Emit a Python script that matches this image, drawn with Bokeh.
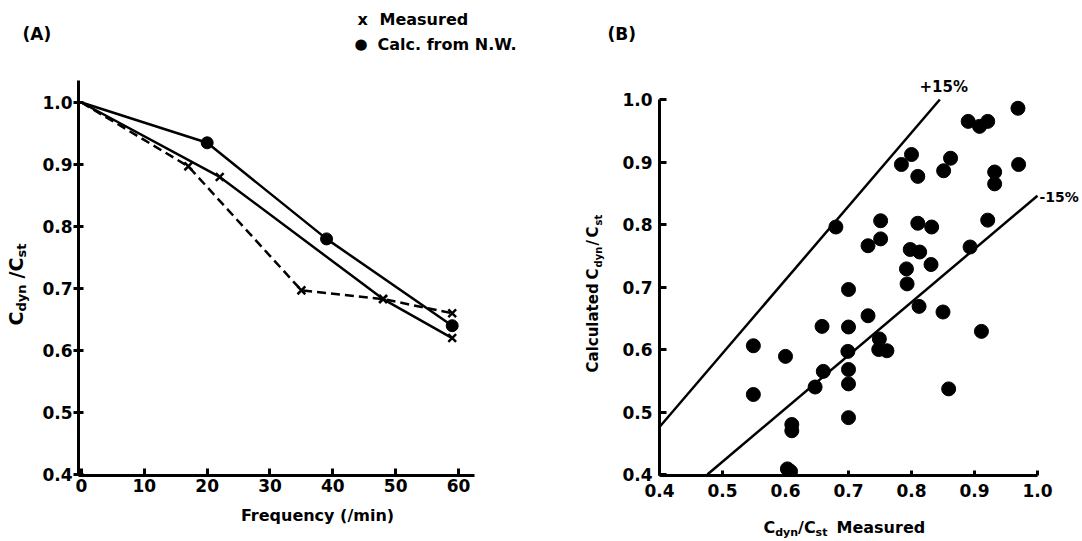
import math
from bokeh.plotting import figure
from bokeh.models import Label, FixedTicker, Range1d, PrintfTickFormatter
from bokeh.layouts import row, column
from bokeh.embed import file_html
from bokeh.resources import INLINE

# ---------------- data: panel A ----------------
freq_meas_dashed = [0, 17, 35, 48, 59]
cdyn_meas_dashed = [1.0, 0.897, 0.697, 0.683, 0.66]
freq_meas_solid = [0, 22, 48, 59]
cdyn_meas_solid = [1.0, 0.88, 0.683, 0.62]
freq_calc = [0, 20, 39, 59]
cdyn_calc = [1.0, 0.935, 0.78, 0.64]
a_xticks = [0, 10, 20, 30, 40, 50, 60]
a_yticks = [0.4, 0.5, 0.6, 0.7, 0.8, 0.9, 1.0]

# ---------------- data: panel B ----------------
meas_b = [0.680, 0.784, 0.800, 0.810, 0.851, 0.862, 0.890, 0.908, 0.921, 0.969,
          0.932, 0.932, 0.970, 0.921, 0.751, 0.751, 0.731, 0.810, 0.832, 0.798,
          0.813, 0.893, 0.792, 0.831, 0.793, 0.700, 0.812, 0.850, 0.731, 0.658,
          0.700, 0.911, 0.549, 0.600, 0.699, 0.749, 0.748, 0.761, 0.660, 0.700,
          0.647, 0.700, 0.549, 0.859, 0.610, 0.610, 0.700, 0.603, 0.608]
calc_b = [0.796, 0.896, 0.912, 0.877, 0.886, 0.906, 0.965, 0.957, 0.965, 0.986,
          0.884, 0.865, 0.896, 0.807, 0.806, 0.777, 0.766, 0.802, 0.796, 0.760,
          0.756, 0.764, 0.729, 0.736, 0.705, 0.696, 0.669, 0.660, 0.654, 0.637,
          0.636, 0.629, 0.606, 0.589, 0.597, 0.617, 0.600, 0.598, 0.565, 0.568,
          0.540, 0.545, 0.528, 0.537, 0.480, 0.470, 0.491, 0.409, 0.405]
plus15_x = [0.4, 0.845]
plus15_y = [0.476, 1.0]
minus15_x = [0.476, 1.0]
minus15_y = [0.4, 0.846]
b_ticks = [0.4, 0.5, 0.6, 0.7, 0.8, 0.9, 1.0]

FONT = "DejaVu Sans"
ROT = math.pi / 2
SHIFT = 0.31   # baseline correction (in em) for the SVG text placement

# ---------------- layout (page pixels) ----------------
HEAD_H = 60          # header strip: panel letters and legend
FR_BOT = 475         # bottom of the plot frames
BOT_B = 30           # bottom border (x tick labels)
FOOT_H = 36          # footer strip with the x-axis titles
FR_H = FR_BOT - HEAD_H

YLA_W = 39                       # strip left of panel A
A_LB, A_L, A_R = 37, 77, 520     # panel A: left border, frame left/right
YLB_W = 98                       # strip between the panels
B_LB, B_L, B_R = 40, 660, 1080   # panel B
TOTAL_W = YLA_W + A_LB + (A_R - A_L) + YLB_W + B_LB + (B_R - B_L)

A_X0 = -3 / 6.2833
A_X1 = A_X0 + (A_R - A_L) / 6.2833
A_Y0 = 0.4 - 1 / 620
A_Y1 = 1.0 + (102 - HEAD_H) / 620
B_X0 = 0.4
B_X1 = 0.4 + (B_R - B_L) / 630
B_Y0 = 0.4 - 1 / 625
B_Y1 = 1.0 + (99 - HEAD_H) / 625


def page(px, py):
    return (px, py)


def a_xy(px, py):
    return (A_X0 + (px - A_L) / (A_R - A_L) * (A_X1 - A_X0),
            A_Y0 + (FR_BOT - py) / FR_H * (A_Y1 - A_Y0))


def b_xy(px, py):
    return (B_X0 + (px - B_L) / (B_R - B_L) * (B_X1 - B_X0),
            B_Y0 + (FR_BOT - py) / FR_H * (B_Y1 - B_Y0))


def lab(p, conv, px, py, text, size, rotated=False, align="left"):
    if rotated:
        px -= SHIFT * size
    else:
        py -= SHIFT * size
    x, y = conv(px, py)
    p.add_layout(Label(x=x, y=y, text=text, text_font=FONT,
                       text_font_style="bold", text_font_size=f"{size}px",
                       angle=ROT if rotated else 0.0, angle_units="rad",
                       text_align=align, text_baseline="alphabetic",
                       text_color="black"))


def blank(x0, x1, y_bottom, y_top, bottom_border):
    f = figure(frame_width=x1 - x0, frame_height=int(y_bottom - y_top),
               min_border_left=0, min_border_right=0, min_border_top=0,
               min_border_bottom=bottom_border,
               x_range=Range1d(x0, x1), y_range=Range1d(y_bottom, y_top),
               x_axis_location=None, y_axis_location=None,
               output_backend="svg", toolbar_location=None)
    f.grid.visible = False
    f.outline_line_color = None
    f.border_fill_color = "white"
    f.background_fill_color = "white"
    return f


def style_axes(p):
    for ax in (p.xaxis[0], p.yaxis[0]):
        ax.axis_line_width = 3
        ax.axis_line_color = "black"
        ax.major_tick_line_width = 3
        ax.major_tick_line_color = "black"
        ax.minor_tick_line_color = None
        ax.major_label_text_font = FONT
        ax.major_label_text_font_style = "bold"
        ax.major_label_text_font_size = "17px"
        ax.major_label_text_color = "black"
    p.grid.visible = False
    p.outline_line_color = None
    p.background_fill_color = "white"
    p.border_fill_color = "white"


# ================= header strip: "(A)", legend, "(B)" =================
head = blank(0, TOTAL_W, HEAD_H, 0, 0)
lab(head, page, 22, 39, "(A)", 17)
lab(head, page, 357, 24, "x", 16)
lab(head, page, 379, 24, "Measured", 16)
lab(head, page, 354, 48, "\u25cf", 15)
lab(head, page, 377, 49, "Calc. from N.W.", 16)
lab(head, page, 607, 39, "(B)", 17)

# ================= strip left of A (y title) =================
yla = blank(0, YLA_W, FR_BOT, HEAD_H, BOT_B)
lab(yla, page, 21, 325, "C", 19, rotated=True)
lab(yla, page, 25, 311, "dyn", 13, rotated=True)
lab(yla, page, 21, 278, "/", 19, rotated=True)
lab(yla, page, 21, 271, "C", 19, rotated=True)
lab(yla, page, 25, 257, "st", 13, rotated=True)

# ================= Panel A =================
pa = figure(frame_width=A_R - A_L, frame_height=FR_H,
            min_border_left=A_LB, min_border_top=0,
            min_border_bottom=BOT_B, min_border_right=0,
            x_range=Range1d(A_X0, A_X1), y_range=Range1d(A_Y0, A_Y1),
            output_backend="svg", toolbar_location=None)
style_axes(pa)
pa.xaxis.ticker = FixedTicker(ticks=a_xticks)
pa.yaxis.ticker = FixedTicker(ticks=a_yticks)
pa.yaxis.formatter = PrintfTickFormatter(format="%.1f")
pa.xaxis.bounds = (A_X0, 62.55)
pa.yaxis.bounds = (A_Y0, 1.0355)
pa.xaxis.major_tick_in = 7
pa.xaxis.major_tick_out = 0
pa.xaxis.major_label_standoff = 3
pa.yaxis.major_tick_in = 5
pa.yaxis.major_tick_out = 5
pa.yaxis.major_label_standoff = 1

pa.line(freq_meas_dashed, cdyn_meas_dashed, line_width=2.5, color="black", line_dash="9 5")
pa.line(freq_meas_solid, cdyn_meas_solid, line_width=2.5, color="black")
pa.line(freq_calc, cdyn_calc, line_width=2.5, color="black")
pa.scatter(freq_meas_dashed[1:], cdyn_meas_dashed[1:], marker="x", size=11,
           line_width=2.5, color="black")
pa.scatter(freq_meas_solid[1:], cdyn_meas_solid[1:], marker="x", size=11,
           line_width=2.5, color="black")
pa.scatter(freq_calc[1:], cdyn_calc[1:], marker="circle", size=12, color="black")

# ================= strip between panels (y title of B) =================
ylb = blank(A_R, A_R + YLB_W, FR_BOT, HEAD_H, BOT_B)
lab(ylb, page, 596, 372, "Calculated", 15, rotated=True)
lab(ylb, page, 596, 279, "C", 15, rotated=True)
lab(ylb, page, 600, 267, "dyn", 10, rotated=True)
lab(ylb, page, 596, 245, "/", 15, rotated=True)
lab(ylb, page, 596, 237, "C", 15, rotated=True)
lab(ylb, page, 600, 225, "st", 10, rotated=True)

# ================= Panel B =================
pb = figure(frame_width=B_R - B_L, frame_height=FR_H,
            min_border_left=B_LB, min_border_top=0,
            min_border_bottom=BOT_B, min_border_right=0,
            x_range=Range1d(B_X0, B_X1), y_range=Range1d(B_Y0, B_Y1),
            output_backend="svg", toolbar_location=None)
style_axes(pb)
pb.xaxis.ticker = FixedTicker(ticks=b_ticks)
pb.yaxis.ticker = FixedTicker(ticks=b_ticks)
pb.xaxis.formatter = PrintfTickFormatter(format="%.1f")
pb.yaxis.formatter = PrintfTickFormatter(format="%.1f")
pb.xaxis.bounds = (0.4, 1.0)
pb.yaxis.bounds = (B_Y0, 1.0)
pb.xaxis.major_tick_in = 5
pb.xaxis.major_tick_out = 0
pb.xaxis.major_label_standoff = 8
pb.yaxis.major_tick_in = 7
pb.yaxis.major_tick_out = 0
pb.yaxis.major_label_standoff = 7

pb.line(plus15_x, plus15_y, line_width=2.5, color="black")
pb.line(minus15_x, minus15_y, line_width=2.5, color="black")
pb.scatter(meas_b, calc_b, marker="circle", size=14, color="black")

lab(pb, b_xy, 920, 91, "+15%", 15)
lab(pb, b_xy, 1040, 201, "-15%", 14)

# ================= footer strip (x titles) =================
foot = blank(0, TOTAL_W, FR_BOT + BOT_B + FOOT_H, FR_BOT + BOT_B, 0)
lab(foot, page, 317, 520, "Frequency (/min)", 16, align="center")
lab(foot, page, 763, 532, "C", 16)
lab(foot, page, 774.7, 535, "dyn", 11)
lab(foot, page, 797.6, 532, "/", 16)
lab(foot, page, 803.4, 532, "C", 16)
lab(foot, page, 815.1, 535, "st", 11)
lab(foot, page, 836, 532, "Measured", 16)

layout = column(head, row(yla, pa, ylb, pb), foot)
open("out.html", "w").write(file_html(layout, INLINE))
